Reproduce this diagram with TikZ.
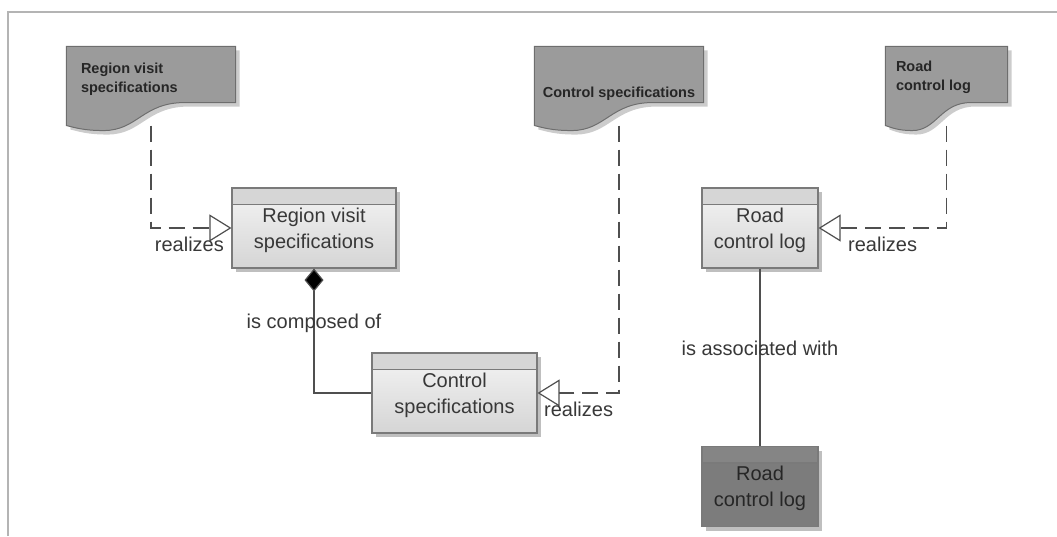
\documentclass[tikz,border=0pt]{standalone}
\usepackage{fontspec}
\setmainfont{Liberation Sans}
\usetikzlibrary{arrows.meta,positioning,calc,shadows,backgrounds}
\definecolor{docgray}{HTML}{9B9B9B}
\definecolor{docline}{HTML}{6E6E6E}
\definecolor{boxline}{HTML}{7A7A7A}
\definecolor{hdrlight}{HTML}{D6D6D6}
\definecolor{bodytop}{HTML}{F4F4F4}
\definecolor{bodybot}{HTML}{D5D5D5}
\definecolor{darkbody}{HTML}{7C7C7C}
\definecolor{hdrdark}{HTML}{858585}
\definecolor{inktext}{HTML}{383838}
\definecolor{linkgray}{HTML}{4F4F4F}
\definecolor{framegray}{HTML}{B4B4B4}

% document symbol with a wavy bottom, drawn from the corners of node #1
\newcommand{\docshape}[1]{%
  \filldraw[docpath] (#1.north west) -- (#1.north east) -- ([yshift=23pt]#1.south east)
    -- ($(#1.south west)!0.7!(#1.south east)+(0,23pt)$)
    .. controls ($(#1.south west)!0.45!(#1.south east)+(0,23pt)$) and ($(#1.south west)!0.42!(#1.south east)+(0,-5pt)$) .. ($(#1.south west)!0.22!(#1.south east)+(0,-5pt)$)
    .. controls ($(#1.south west)!0.1!(#1.south east)+(0,-5pt)$) and ($(#1.south west)!0.05!(#1.south east)+(0,-2pt)$) .. (#1.south west) -- cycle;}

\begin{document}
\begin{tikzpicture}[x=1pt, y=-1pt, line width=1.1pt,
  hdr/.style={path picture={
    \fill[#1] (path picture bounding box.north west) rectangle ([yshift=-16.5pt]path picture bounding box.north east);
    \draw[boxline] ([yshift=-16.5pt]path picture bounding box.north west) -- ([yshift=-16.5pt]path picture bounding box.north east);}},
  cls/.style={draw=boxline, minimum width=#1, minimum height=80pt, inner sep=0pt, align=center,
    font=\fontsize{20}{26}\selectfont, text=inktext, top color=bodytop, bottom color=bodybot,
    drop shadow={shadow xshift=4pt, shadow yshift=-4pt, fill=black, opacity=0.25}, hdr=hdrlight},
  darkcls/.style={cls=#1, top color=darkbody, bottom color=darkbody, text=black!85, hdr=hdrdark},
  doc/.style={minimum width=#1, minimum height=78pt, inner sep=0pt},
  docpath/.style={fill=docgray, draw=docline, line width=1pt,
    drop shadow={shadow xshift=4pt, shadow yshift=-4pt, fill=black, opacity=0.2}},
  doctext/.style={font=\fontsize{14.5}{19}\selectfont\bfseries, text=black!85, align=left, inner sep=0pt},
  lbl/.style={font=\fontsize{20}{24}\selectfont, text=inktext, inner sep=1pt},
  realize/.style={draw=linkgray, line width=1.2pt, dash pattern=on 16pt off 8pt,
    -{Triangle[open, length=22pt, width=27pt, fill=white, line width=1.2pt]}},
  compose/.style={draw=linkgray, line width=1.2pt, {Diamond[length=23pt, width=19pt, fill=black]}-},
  assoc/.style={draw=linkgray, line width=1.2pt}]
\useasboundingbox (0,0) rectangle (1057,536);
\draw[framegray, line width=1.5pt] (8,536) |- (1057,12);

% documents
\node[doc=168pt] (rvdoc) at (151,86) {};
\node[doc=168pt] (csdoc) at (619,86) {};
\node[doc=121pt] (rcdoc) at (946.5,86) {};
\node[doctext, anchor=north west] (rvtxt) at ([xshift=14pt, yshift=-16pt]rvdoc.north west) {Region visit\\specifications};
\node[doctext] (cstxt) at ([yshift=-8pt]csdoc.center) {Control specifications};
\node[doctext, anchor=north west] (rctxt) at ([xshift=10pt, yshift=-14pt]rcdoc.north west) {Road\\control log};
\begin{scope}[on background layer]
\docshape{rvdoc}
\docshape{csdoc}
\docshape{rcdoc}
\end{scope}

% classes
\node[cls=164pt] (rvbox) at (314,228) {\strut Region visit\\specifications};
\node[cls=165pt] (csbox) at (454.5,393) {\strut Control\\specifications};
\node[cls=116pt] (rcbox) at (760,228) {\strut Road\\control log};
\node[darkcls=116pt] (rlbox) at (760,486.5) {\strut Road\\control log};

% connectors
\draw[realize] (rvdoc.south) |- (rvbox.west)
  node[lbl, at end, anchor=north east, xshift=-6pt, yshift=-7pt] {realizes};
\draw[realize] (csdoc.south) |- (csbox.east)
  node[lbl, at end, anchor=north west, xshift=5pt, yshift=-7pt] {realizes};
\draw[realize] (rcdoc.south) |- (rcbox.east)
  node[lbl, at end, anchor=north west, xshift=28pt, yshift=-7pt] {realizes};
\draw[compose] (rvbox.south) |- (csbox.west) node[lbl, pos=0.22] {is composed of};
\draw[assoc] (rcbox.south) -- (rlbox.north) node[lbl, pos=0.45] {is associated with};
\end{tikzpicture}
\end{document}
